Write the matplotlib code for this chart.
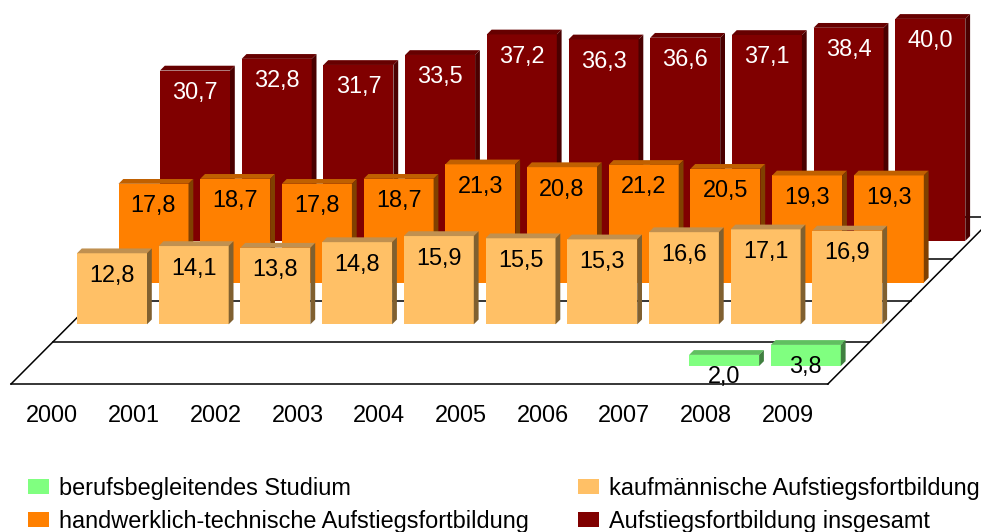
import matplotlib
matplotlib.use("Agg")
import matplotlib.pyplot as plt
from matplotlib.patches import Patch
import numpy as np

plt.rcParams['font.family'] = ['Liberation Sans', 'DejaVu Sans']

years = ['2000', '2001', '2002', '2003', '2004', '2005', '2006', '2007', '2008', '2009']
studium = [None, None, None, None, None, None, None, None, 2.0, 3.8]
kaufm = [12.8, 14.1, 13.8, 14.8, 15.9, 15.5, 15.3, 16.6, 17.1, 16.9]
handw = [17.8, 18.7, 17.8, 18.7, 21.3, 20.8, 21.2, 20.5, 19.3, 19.3]
gesamt = [30.7, 32.8, 31.7, 33.5, 37.2, 36.3, 36.6, 37.1, 38.4, 40.0]

names = ['berufsbegleitendes Studium', 'kaufmännische Aufstiegsfortbildung',
         'handwerklich-technische Aufstiegsfortbildung', 'Aufstiegsfortbildung insgesamt']
# front, top, side colours per series
styles = [('#80ff80', '#60c060', '#408040', 'black'),
          ('#ffc066', '#c09050', '#806030', 'black'),
          ('#ff8000', '#c06000', '#804000', 'black'),
          ('#800000', '#660000', '#4a0000', 'white')]

px_x = 81.7   # pixels per category
px_y = 5.55   # pixels per value unit
x0, y0 = 70.5, 366   # pixel of green 2000 bar centre / baseline
shift_x = 41.5 / px_x
shift_y = 41.7 / px_y
depth_x = 4.8 / px_x
depth_y = 4.8 / px_y
width = 70 / px_x
floor_drop = 18 / px_y
fs = 16.9

fig = plt.figure(figsize=(9.81, 5.32), dpi=100)
ax = fig.add_axes([0, 0, 1, 1])
ax.set_xlim(-x0 / px_x, (981 - x0) / px_x)
ax.set_ylim((y0 - 532) / px_y, y0 / px_y)
ax.set_axis_off()

# floor of the fake 3D box
left = -0.728
right = 9.27
for k in range(5):
    ax.plot([left + k * shift_x, right + k * shift_x],
            [k * shift_y - floor_drop] * 2, color='black', lw=1.1, zorder=1)
for xs in (left, right):
    ax.plot([xs, xs + 4 * shift_x], [-floor_drop, 4 * shift_y - floor_drop],
            color='black', lw=1.1, zorder=1)

series = [studium, kaufm, handw, gesamt]
z = 2
# back row first so the front rows cover it
for k in (3, 2, 1, 0):
    front, top, side, txt = styles[k]
    base = k * shift_y
    for i, v in enumerate(series[k]):
        if v is None:
            continue
        xc = i + k * shift_x
        xl, xr = xc - width / 2, xc + width / 2
        ax.bar(xc, v, width, bottom=base, color=front, linewidth=0, zorder=z)
        ax.fill([xl, xl + depth_x, xr + depth_x, xr],
                [base + v, base + v + depth_y, base + v + depth_y, base + v],
                color=top, linewidth=0, zorder=z)
        ax.fill([xr, xr + depth_x, xr + depth_x, xr],
                [base, base + depth_y, base + v + depth_y, base + v],
                color=side, linewidth=0, zorder=z)
        ax.text(xc, base + v - 22 / px_y, f'{v:.1f}'.replace('.', ','), color=txt,
                fontsize=fs, ha='center', va='center', zorder=z + 1)
    z += 2

for i, y in enumerate(years):
    ax.text(i - 0.222, -50 / px_y, y, fontsize=fs, ha='center', va='center')

handles = [Patch(facecolor=styles[0][0]), Patch(facecolor=styles[2][0]),
           Patch(facecolor=styles[1][0]), Patch(facecolor=styles[3][0])]
labels = [names[0], names[2], names[1], names[3]]
ax.legend(handles, labels, ncol=2, frameon=False, fontsize=fs,
          loc='lower left', bbox_to_anchor=(28 / 981, -1 / 532), borderpad=0, borderaxespad=0,
          handlelength=0.89, handleheight=0.62, handletextpad=0.43,
          columnspacing=2.09, labelspacing=0.43)

fig.savefig('out.png', dpi=100)
